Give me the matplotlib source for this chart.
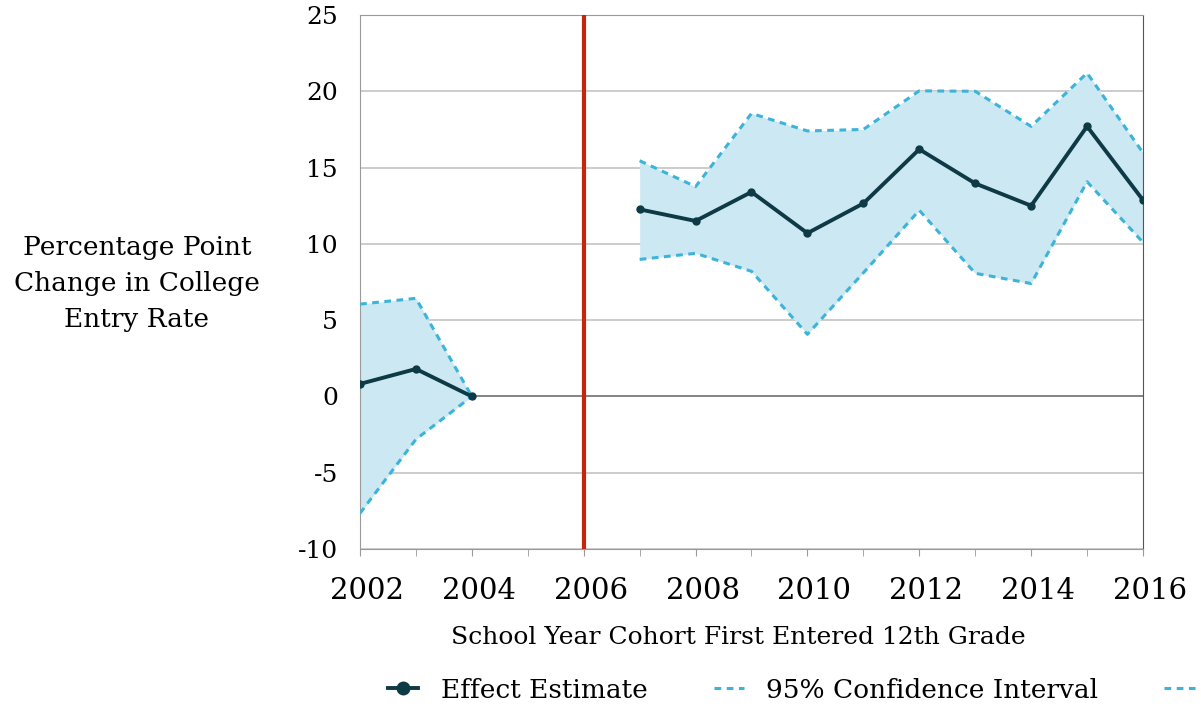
import matplotlib
matplotlib.use("Agg")
import matplotlib.pyplot as plt
import matplotlib.transforms as mtransforms
import numpy as np

plt.rcParams["font.family"] = "DejaVu Serif"

# cohort years and estimates (percentage points)
years_pre = [2002, 2003, 2004]
effect_pre = [0.82, 1.8, 0.0]
upper_pre = [6.05, 6.43, 0.0]
lower_pre = [-7.66, -2.81, 0.0]

years_post = [2007, 2008, 2009, 2010, 2011, 2012, 2013, 2014, 2015, 2016]
effect_post = [12.26, 11.5, 13.4, 10.7, 12.65, 16.2, 13.96, 12.5, 17.7, 12.87]
upper_post = [15.45, 13.75, 18.55, 17.4, 17.5, 20.03, 20.0, 17.7, 21.2, 15.97]
lower_post = [8.98, 9.38, 8.2, 4.07, 8.1, 12.2, 8.07, 7.4, 14.07, 10.1]

policy_year = 2006
yticks = [-10, -5, 0, 5, 10, 15, 20, 25]
xticks = [2002, 2004, 2006, 2008, 2010, 2012, 2014, 2016]

dark = "#0e3a46"
ci_col = "#3cb4da"
fill_col = "#cbe8f3"
red = "#c3260c"
dash = (0, (2.2, 1.8))

fig = plt.figure(figsize=(12.01, 7.06), dpi=100)
ax = fig.add_axes([360 / 1201, 1 - 549 / 706, 783 / 1201, 534 / 706])

for yy in yticks:
    if yy == 0:
        ax.axhline(yy, color="#6e6e6e", lw=1.2, zorder=1)
    else:
        ax.axhline(yy, color="#c4c4c4", lw=1.2, zorder=1)

for xs, eff, up, lo in [(years_pre, effect_pre, upper_pre, lower_pre),
                        (years_post, effect_post, upper_post, lower_post)]:
    ax.fill_between(xs, lo, up, color=fill_col, lw=0, zorder=2)
    ax.plot(xs, up, color=ci_col, lw=2.2, ls=dash, zorder=3)
    ax.plot(xs, lo, color=ci_col, lw=2.2, ls=dash, zorder=3)
    ax.plot(xs, eff, color=dark, lw=2.8, marker="o", ms=5, zorder=4)

ax.axvline(policy_year, color=red, lw=3.0, zorder=5)

ax.set_xlim(2002, 2016)
ax.set_ylim(-10, 25)
ax.set_yticks(yticks)
ax.set_yticklabels([str(v) for v in yticks])
ax.set_xticks(xticks)
ax.set_xticks(np.arange(2002, 2017), minor=True)
ax.tick_params(axis="y", length=0, pad=16, labelsize=18)
ax.tick_params(axis="x", which="both", length=5, color="#9a9a9a", pad=15, labelsize=21)
# nudge the year labels a little to the right
shift = mtransforms.ScaledTranslation(7 / 100, 0, fig.dpi_scale_trans)
for lbl in ax.get_xticklabels():
    lbl.set_transform(lbl.get_transform() + shift)
for side in ["left", "bottom", "top"]:
    ax.spines[side].set_color("#9a9a9a")
ax.spines["right"].set_color("#555555")

ax.set_xlabel("School Year Cohort First Entered 12th Grade", fontsize=18)
ax.xaxis.set_label_coords(0.483, -0.145)
fig.text(137 / 1201, 1 - 284 / 706, "Percentage Point\nChange in College\nEntry Rate",
         ha="center", va="center", fontsize=19, linespacing=1.55)

h1, = ax.plot([], [], color=dark, lw=2.8, marker="o", ms=9)
h2, = ax.plot([], [], color=ci_col, lw=2.2, ls=dash)
h3, = ax.plot([], [], color=ci_col, lw=2.2, ls=dash)
fig.legend([h1, h2, h3], ["Effect Estimate", "95% Confidence Interval", ""],
           loc="center left", bbox_to_anchor=(388 / 1201, 1 - 690 / 706), ncol=3,
           frameon=False, fontsize=19, handlelength=1.15, columnspacing=2.5,
           handletextpad=0.85, borderpad=0, borderaxespad=0)

fig.savefig("out.png", dpi=100)
